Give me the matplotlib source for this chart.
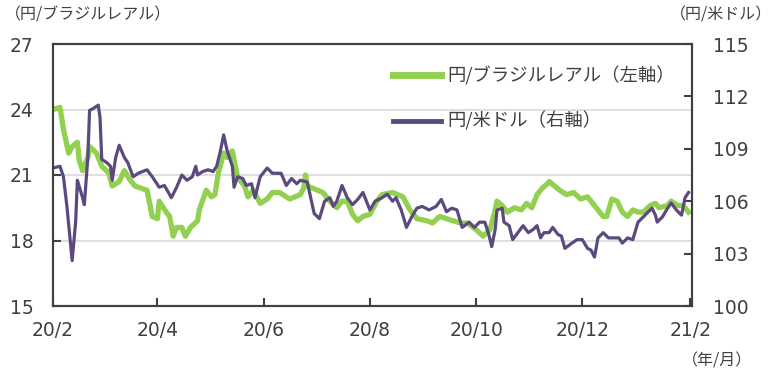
#!/usr/bin/env python3

import numpy as np
import pandas as pd
import matplotlib
matplotlib.use("Agg")
import matplotlib.pyplot as plt
import matplotlib.dates as mdates

plt.rcParams['font.family'] = ['Noto Sans CJK JP', 'DejaVu Sans']

start = pd.Timestamp("2020-02-01")

# 円/ブラジルレアル (left axis), days counted from 2020-02-01
brl_day = [0, 4, 6, 9, 11, 14, 15, 17, 20, 21, 25, 28, 32, 34, 38, 41, 44, 47, 54, 57,
           60, 61, 65, 67, 69, 71, 74, 76, 79, 83, 84, 88, 91, 93, 95, 98, 100, 103, 106, 110,
           112, 115, 119, 123, 126, 130, 136, 142, 144, 145, 146, 152, 155, 159, 163, 166, 169, 172, 175, 178,
           182, 186, 189, 195, 201, 205, 209, 215, 218, 222, 226, 230, 234, 238, 243, 247, 251, 254, 255, 258,
           261, 265, 269, 272, 275, 278, 281, 284, 285, 288, 291, 295, 299, 303, 307, 310, 312, 316, 318, 321,
           324, 327, 330, 333, 336, 339, 343, 346, 348, 353, 355, 359, 362, 365]
brl_val = [24.0, 24.1, 23.1, 22.0, 22.3, 22.5, 21.7, 21.2, 21.8, 22.3, 22.0, 21.4, 21.1, 20.5, 20.7, 21.2, 20.8, 20.5, 20.3, 19.1,
           19.0, 19.8, 19.3, 19.1, 18.2, 18.6, 18.6, 18.2, 18.6, 18.9, 19.4, 20.3, 20.0, 20.1, 21.1, 22.0, 21.8, 22.1, 20.9, 20.5,
           20.0, 20.3, 19.7, 19.9, 20.2, 20.2, 19.9, 20.1, 20.4, 21.0, 20.5, 20.3, 20.2, 19.8, 19.5, 19.8, 19.8, 19.2, 18.9, 19.1,
           19.2, 19.8, 20.1, 20.2, 20.0, 19.4, 19.0, 18.9, 18.8, 19.1, 19.0, 18.9, 18.8, 18.8, 18.5, 18.2, 18.5, 19.4, 19.8, 19.6,
           19.3, 19.5, 19.4, 19.7, 19.5, 20.1, 20.4, 20.6, 20.7, 20.5, 20.3, 20.1, 20.2, 19.9, 20.0, 19.7, 19.5, 19.1, 19.1, 19.9,
           19.8, 19.3, 19.1, 19.4, 19.3, 19.3, 19.6, 19.7, 19.5, 19.6, 19.8, 19.6, 19.6, 19.3]

# 円/米ドル (right axis)
usd_day = [0, 4, 6, 8, 11, 13, 14, 17, 18, 20, 21, 23, 26, 27, 28, 31, 33, 34, 36, 38,
           41, 43, 46, 49, 54, 57, 61, 64, 68, 71, 74, 77, 80, 82, 83, 86, 89, 92, 94, 96,
           98, 100, 103, 104, 106, 109, 111, 114, 116, 119, 123, 126, 129, 131, 134, 137, 140, 142, 146, 148,
           150, 153, 156, 159, 161, 163, 166, 169, 172, 175, 178, 180, 182, 185, 189, 192, 195, 197, 200, 203,
           206, 209, 212, 216, 220, 223, 226, 229, 232, 235, 239, 242, 245, 248, 250, 252, 254, 255, 258, 259,
           262, 264, 267, 270, 273, 276, 278, 280, 282, 285, 287, 290, 292, 294, 298, 301, 304, 307, 309, 311,
           313, 316, 319, 323, 325, 327, 330, 333, 336, 339, 342, 344, 346, 347, 350, 353, 355, 358, 361, 363, 365]
usd_val = [107.9, 108.0, 107.4, 105.7, 102.6, 104.8, 107.2, 106.2, 105.8, 108.5, 111.2, 111.3, 111.5, 110.8, 108.4, 108.2, 108.0, 107.2, 108.5, 109.2,
           108.5, 108.2, 107.4, 107.6, 107.8, 107.4, 106.8, 106.9, 106.2, 106.8, 107.5, 107.2, 107.4, 108.0, 107.5, 107.7, 107.8, 107.7, 108.0, 108.8,
           109.8, 108.9, 108.0, 106.8, 107.4, 107.3, 106.9, 107.0, 106.2, 107.4, 107.9, 107.6, 107.6, 107.6, 106.9, 107.3, 107.0, 107.2, 107.1, 106.2,
           105.3, 105.0, 106.0, 106.2, 105.7, 106.0, 106.9, 106.2, 105.8, 106.1, 106.5, 106.0, 105.5, 106.0, 106.2, 106.4, 106.0, 106.2, 105.5, 104.5,
           105.1, 105.6, 105.7, 105.5, 105.7, 106.1, 105.4, 105.6, 105.5, 104.5, 104.8, 104.5, 104.8, 104.8, 104.2, 103.4, 104.4, 105.5, 105.6, 104.8,
           104.6, 103.8, 104.2, 104.6, 104.2, 104.4, 104.6, 103.9, 104.2, 104.2, 104.5, 104.1, 104.0, 103.3, 103.6, 103.8, 103.8, 103.3, 103.2, 102.8,
           103.9, 104.2, 103.9, 103.9, 103.9, 103.6, 103.9, 103.8, 104.8, 105.1, 105.4, 105.6, 105.2, 104.8, 105.1, 105.6, 105.9, 105.5, 105.2, 106.2, 106.5]

xtick_dates = ["2020-02-01", "2020-04-01", "2020-06-01", "2020-08-01",
               "2020-10-01", "2020-12-01", "2021-02-01"]
xtick_labels = ["20/2", "20/4", "20/6", "20/8", "20/10", "20/12", "21/2"]
left_ticks = [15, 18, 21, 24, 27]
right_ticks = [100, 103, 106, 109, 112, 115]

green = "#92D050"
purple = "#5B4A7E"
dark = "#404040"
text_c = "#404040"

brl_dates = start + pd.to_timedelta(brl_day, unit="D")
usd_dates = start + pd.to_timedelta(usd_day, unit="D")

fig = plt.figure(figsize=(7.77, 3.75), dpi=100)
ax = fig.add_axes([53 / 777, 1 - 306 / 375, (692 - 53) / 777, (306 - 44) / 375])
ax2 = ax.twinx()

ax.grid(axis="y", color="#D9D9D9", linewidth=1.2)
ax.set_axisbelow(True)

l1, = ax.plot(brl_dates, brl_val, color=green, linewidth=3.8,
              solid_joinstyle="round", label="円/ブラジルレアル（左軸）")
l2, = ax2.plot(usd_dates, usd_val, color=purple, linewidth=2.3,
               solid_joinstyle="round", label="円/米ドル（右軸）")

ax.set_ylim(15, 27)
ax.set_yticks(left_ticks)
ax2.set_ylim(100, 115)
ax2.set_yticks(right_ticks)
ax.set_xlim(start, start + pd.Timedelta(days=367))
ax.set_xticks(pd.to_datetime(xtick_dates))
ax.set_xticklabels(xtick_labels)

for a in (ax, ax2):
    for s in a.spines.values():
        s.set_color(dark)
        s.set_linewidth(1.5)
    a.tick_params(direction="in", length=6, width=1.5, color=dark,
                  labelsize=13.5, labelcolor=text_c)
    for lab in a.get_xticklabels() + a.get_yticklabels():
        lab.set_family("DejaVu Sans")
ax.tick_params(axis="y", pad=14)
ax.tick_params(axis="x", pad=11)
ax2.tick_params(axis="y", pad=15)

fig.text(5 / 777, 1 - 15 / 375, "（円/ブラジルレアル）", fontsize=11.5,
         color=text_c, va="center", ha="left")
fig.text(772 / 777, 1 - 15 / 375, "（円/米ドル）", fontsize=11.5,
         color=text_c, va="center", ha="right")
fig.text(752 / 777, 1 - 361 / 375, "（年/月）", fontsize=11.5,
         color=text_c, va="center", ha="right")

leg = ax2.legend(handles=[l1, l2], loc="upper left",
                 bbox_to_anchor=(393 / 777, 1 - 66 / 375),
                 bbox_transform=fig.transFigure, frameon=False,
                 fontsize=13.2, handlelength=2.6, handletextpad=0.35,
                 labelspacing=1.45, borderpad=0, borderaxespad=0)
for t in leg.get_texts():
    t.set_color(text_c)
leg.get_lines()[0].set_linewidth(5)
leg.get_lines()[1].set_linewidth(3.5)

fig.savefig("out.png", dpi=100)
